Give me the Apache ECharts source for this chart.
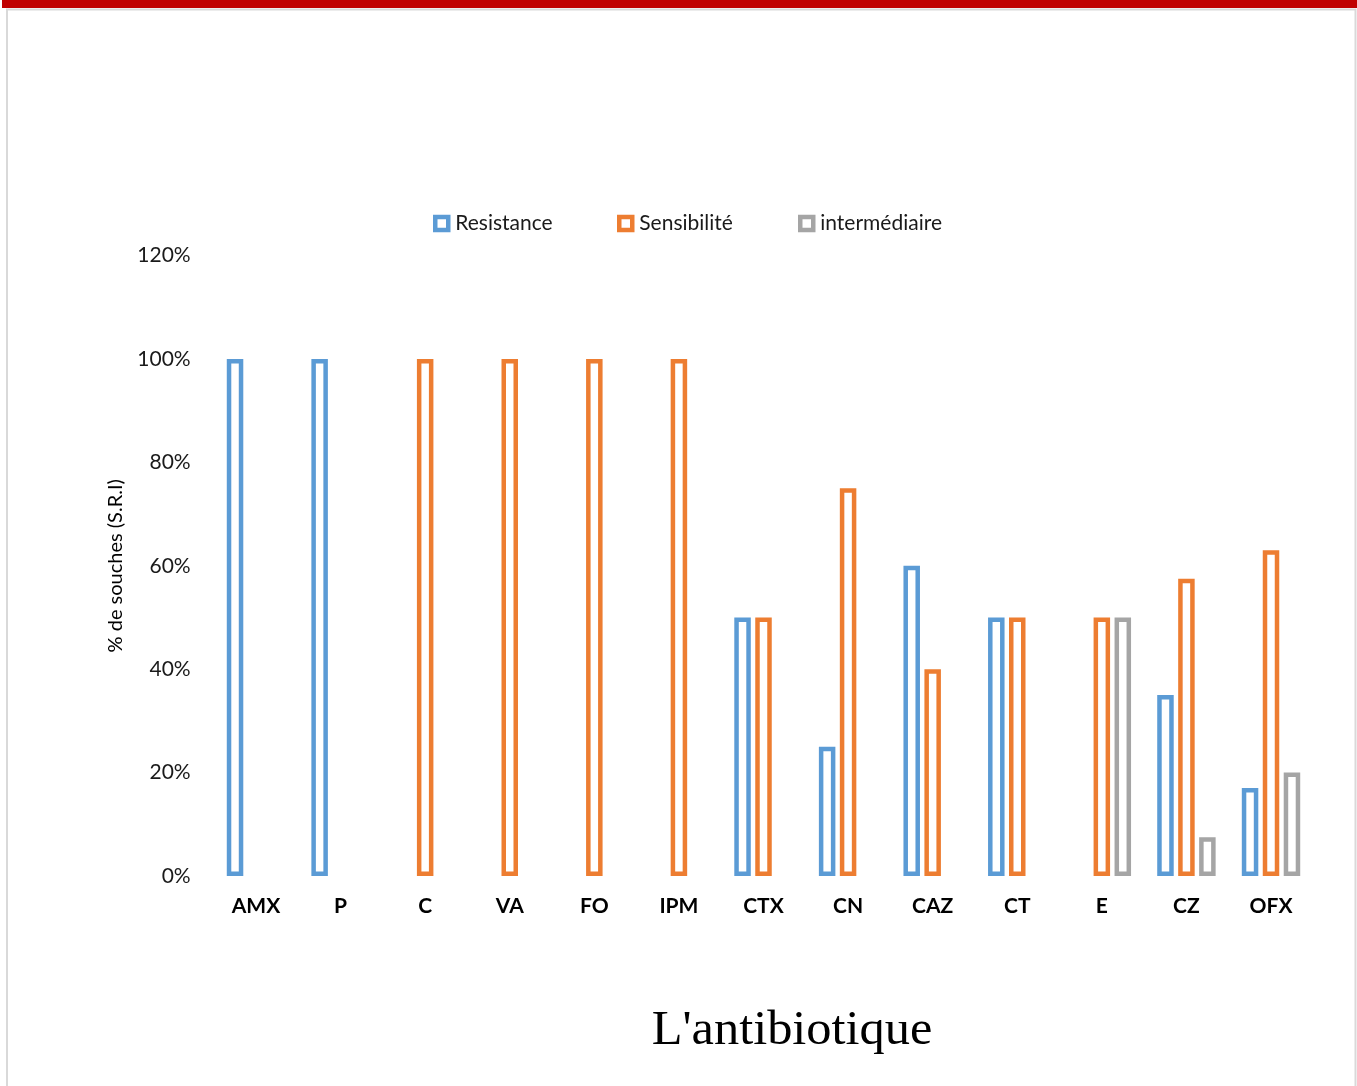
<!DOCTYPE html>
<html>
<head>
<meta charset="utf-8">
<script src="https://cdn.jsdelivr.net/npm/echarts@6/dist/echarts.min.js"></script>
<style>
html,body{margin:0;padding:0;background:#fff;}
#c{width:1357px;height:1086px;}
</style>
</head>
<body>
<div id="c"></div>
<script>
const categories = ['AMX','P','C','VA','FO','IPM','CTX','CN','CAZ','CT','E','CZ','OFX'];
const resistance = [1.00, 1.00, null, null, null, null, 0.50, 0.25, 0.60, 0.50, null, 0.35, 0.17];
const sensibilite = [null, null, 1.00, 1.00, 1.00, 1.00, 0.50, 0.75, 0.40, 0.50, 0.50, 0.575, 0.63];
const intermediaire = [null, null, null, null, null, null, null, null, null, null, 0.50, 0.075, 0.20];
const seriesNames = ['Resistance', 'Sensibilité', 'intermédiaire'];
const yTicks = [0, 0.2, 0.4, 0.6, 0.8, 1.0, 1.2];

const colors = ['#5B9BD5', '#ED7D31', '#A5A5A5'];
const font = 'Lato, "Open Sans", sans-serif';
const chart = echarts.init(document.getElementById('c'), null, {renderer: 'canvas'});

function barSeries(name, data, color) {
  return {
    name: name,
    type: 'bar',
    data: data,
    barWidth: 16.5,
    barGap: '27%',
    itemStyle: {color: '#ffffff', borderColor: color, borderWidth: 4.5},
    emphasis: {disabled: true}
  };
}

const legendLefts = [428, 612, 793];
chart.setOption({
  animation: false,
  backgroundColor: '#ffffff',
  grid: {left: 213.7, right: 43.7, top: 255.6, bottom: 210},
  legend: seriesNames.map((n, i) => ({
    data: [{name: n, icon: 'rect', itemStyle: {color: '#ffffff', borderColor: colors[i], borderWidth: 4.5}}],
    left: legendLefts[i],
    top: 208,
    itemWidth: 13,
    itemHeight: 13,
    itemGap: 5,
    selectedMode: false,
    textStyle: {fontFamily: font, fontSize: 21, color: '#1a1a1a', padding: [0, 0, 0, 2]}
  })),
  xAxis: {
    type: 'category',
    data: categories,
    axisLine: {show: false},
    axisTick: {show: false},
    axisLabel: {fontFamily: font, fontSize: 21, fontWeight: 'bold', color: '#000', margin: 20}
  },
  yAxis: {
    type: 'value',
    min: yTicks[0],
    max: yTicks[yTicks.length - 1],
    interval: 0.2,
    splitLine: {show: false},
    axisLine: {show: false},
    axisTick: {show: false},
    axisLabel: {
      fontFamily: font, fontSize: 21, color: '#1a1a1a', margin: 23,
      formatter: v => Math.round(v * 100) + '%'
    },
    name: '% de souches (S.R.I)',
    nameLocation: 'middle',
    nameGap: 88,
    nameTextStyle: {fontFamily: font, fontSize: 20, color: '#000'}
  },
  series: [
    barSeries(seriesNames[0], resistance, colors[0]),
    barSeries(seriesNames[1], sensibilite, colors[1]),
    barSeries(seriesNames[2], intermediaire, colors[2])
  ],
  graphic: [
    {type: 'rect', left: 2, top: 0, shape: {width: 1355, height: 8}, style: {fill: '#C00000'}, silent: true},
    {type: 'rect', shape: {x: 7, y: 9.5, width: 1348.5, height: 1100}, style: {fill: 'none', stroke: '#D9D9D9', lineWidth: 2}, silent: true},
    {type: 'text', x: 792, y: 1031, scaleX: 1.05, originX: 0, originY: 0, style: {text: "L'antibiotique", font: '48px "Liberation Serif", "DejaVu Serif", serif', fill: '#000', align: 'center', verticalAlign: 'middle'}, silent: true}
  ]
});
</script>
</body>
</html>
